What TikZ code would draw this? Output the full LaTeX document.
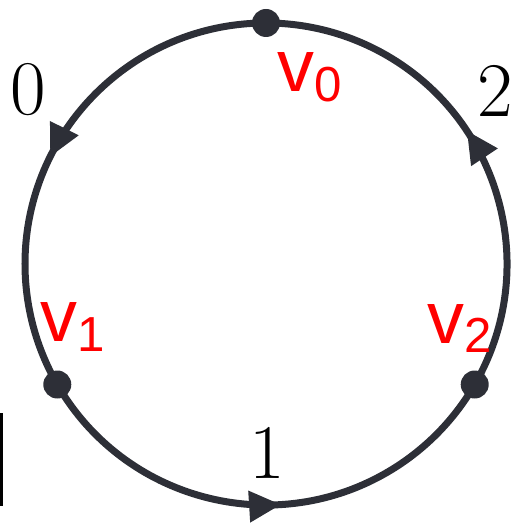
\documentclass[tikz,border=0pt]{standalone}
\usepackage{fontspec}
\newfontfamily\labfont{Liberation Sans}
\usetikzlibrary{arrows.meta,decorations.markings}
\definecolor{edgecol}{RGB}{45,47,55}
\definecolor{vred}{RGB}{255,0,0}
\tikzset{
  dot/.style={circle,fill=edgecol,inner sep=0pt,minimum size=2.8mm},
  ln/.style={draw=edgecol,line width=0.07cm},
  midarrow/.style={ln,postaction={decorate},decoration={markings,
    mark=at position 0.53 with {\arrow[edgecol]{Triangle[length=3.2mm,width=3mm]}}}},
  num/.style={inner sep=0pt,font=\fontsize{22}{22}\selectfont},
  vlbl/.style={inner sep=0pt,anchor=base west,text=vred,font=\labfont\fontsize{21}{21}\selectfont},
}
\newcommand{\vsub}[1]{\raisebox{-0.1cm}{\fontsize{14}{14}\selectfont #1}}

\begin{document}
\begin{tikzpicture}
  \useasboundingbox (-2.66,-2.62) rectangle (2.50,2.64);
  % edges of the cycle
  \draw[midarrow] (90:2.41) arc[start angle=90,end angle=210,radius=2.41];
  \draw[midarrow] (210:2.41) arc[start angle=210,end angle=330,radius=2.41];
  \draw[midarrow] (330:2.41) arc[start angle=330,end angle=450,radius=2.41];
  % vertices
  \node[dot] (v0) at (90:2.41) {};
  \node[dot] (v1) at (210:2.41) {};
  \node[dot] (v2) at (330:2.41) {};
  \node[vlbl] (l0) at (0.11,1.72) {v\vsub{0}};
  \node[vlbl] (l1) at (-2.26,-0.78) {v\vsub{1}};
  \node[vlbl] (l2) at (1.61,-0.79) {v\vsub{2}};
  % edge labels
  \node[num] (e0) at (-2.38,1.74) {0};
  \node[num] (e1) at (0.01,-1.89) {1};
  \node[num] (e2) at (2.29,1.73) {2};
  \draw[line width=0.035cm] (-2.645,-1.49) -- (-2.645,-2.42);
\end{tikzpicture}
\end{document}
